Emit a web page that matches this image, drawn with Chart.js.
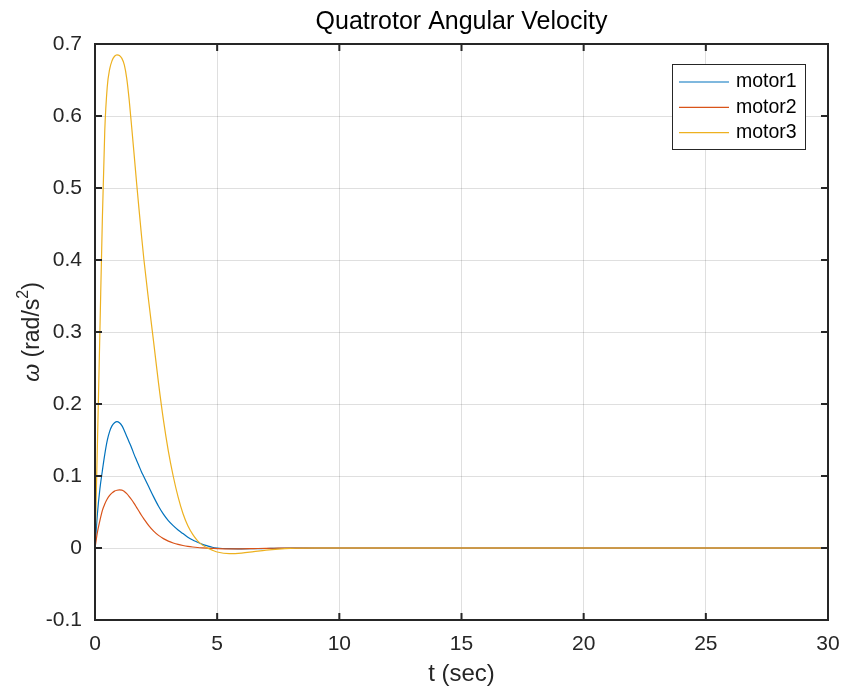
<!DOCTYPE html>
<html>
<head>
<meta charset="utf-8">
<script src="https://cdn.jsdelivr.net/npm/chart.js@4.4.1/dist/chart.umd.min.js"></script>
<style>
  html, body { margin: 0; padding: 0; background: #fff; }
</style>
</head>
<body>
<canvas id="omegaChart" width="841" height="690"></canvas>
<script>
// values
var timeSec = [0, 0.1, 0.2, 0.3, 0.4, 0.5, 0.6, 0.7, 0.8, 0.9, 1.0, 1.1, 1.2, 1.3, 1.4, 1.5, 1.6,
  1.7, 1.8, 1.9, 2.0,
  2.2, 2.4, 2.6, 2.8, 3.0, 3.2, 3.4, 3.6, 3.8, 4.0, 4.2, 4.4, 4.6, 4.8, 5.0,
  5.5, 6.0, 6.5, 7.0, 7.5, 8.0,
  9, 10, 15, 20, 25, 30];
var motor1 = [0, 0.048, 0.082, 0.107, 0.13, 0.149, 0.162, 0.17, 0.174, 0.1755, 0.174, 0.17, 0.163,
  0.155, 0.147, 0.139, 0.13, 0.122, 0.114, 0.106, 0.099,
  0.085, 0.071, 0.058, 0.047, 0.038, 0.031, 0.025, 0.02, 0.015, 0.011, 0.008, 0.005, 0.003, 0.001, 0,
  -0.001, -0.0012, -0.001, -0.0007, -0.0004, -0.0002,
  0, 0, 0, 0, 0, 0];
var motor2 = [0, 0.022, 0.038, 0.052, 0.061, 0.068, 0.073, 0.0765, 0.079, 0.0802, 0.0806, 0.0804,
  0.0785, 0.0755, 0.0715, 0.067, 0.062, 0.0565, 0.051, 0.0455, 0.0405,
  0.031, 0.0235, 0.0175, 0.013, 0.0095, 0.007, 0.005, 0.0035, 0.0023, 0.0014, 0.0007, 0.0002,
  -0.0002, -0.0005, -0.0008,
  -0.0012, -0.0011, -0.0008, -0.0005, -0.0003, -0.0001,
  0, 0, 0, 0, 0, 0];
var motor3 = [0, 0.145, 0.3, 0.455, 0.58, 0.64, 0.665, 0.677, 0.683, 0.685, 0.684, 0.68, 0.671,
  0.652, 0.622, 0.585, 0.547, 0.508, 0.471, 0.435, 0.401,
  0.342, 0.286, 0.229, 0.178, 0.135, 0.1, 0.071, 0.048, 0.031, 0.019, 0.01, 0.004, 0, -0.003, -0.0055,
  -0.0078, -0.007, -0.005, -0.003, -0.0015, -0.0005,
  0, 0, 0, 0, 0, 0];
var seriesNames = ['motor1', 'motor2', 'motor3'];
var seriesColors = ['#0072BD', '#D95319', '#EDB120'];

var FONT = '"Liberation Sans", Arial, Helvetica, sans-serif';
var INK = '#262626';

function toPoints(values) {
  return timeSec.map(function (t, i) {
    return { x: t, y: values[i] };
  });
}

// box, inward ticks, omega label and legend drawn like MATLAB
var matlabFrame = {
  id: 'matlabFrame',
  afterDatasetsDraw: function (chart) {
    var ctx = chart.ctx;
    var a = chart.chartArea;
    var xs = chart.scales.x;
    var ys = chart.scales.y;
    ctx.save();
    ctx.strokeStyle = INK;
    ctx.lineWidth = 2;
    ctx.strokeRect(a.left, a.top, a.right - a.left, a.bottom - a.top);

    ctx.beginPath();
    xs.ticks.forEach(function (t) {
      var px = xs.getPixelForValue(t.value);
      ctx.moveTo(px, a.bottom); ctx.lineTo(px, a.bottom - 7);
      ctx.moveTo(px, a.top); ctx.lineTo(px, a.top + 7);
    });
    ys.ticks.forEach(function (t) {
      var py = ys.getPixelForValue(t.value);
      ctx.moveTo(a.left, py); ctx.lineTo(a.left + 7, py);
      ctx.moveTo(a.right, py); ctx.lineTo(a.right - 7, py);
    });
    ctx.stroke();

    // y axis label
    ctx.save();
    ctx.translate(33, (a.top + a.bottom) / 2);
    ctx.rotate(-Math.PI / 2);
    ctx.fillStyle = INK;
    ctx.textBaseline = 'middle';
    var parts = [
      { text: '\u03C9', font: 'italic 23px ' + FONT, dy: 0 },
      { text: ' (rad/s', font: '23px ' + FONT, dy: 0 },
      { text: '2', font: '16px ' + FONT, dy: -9 },
      { text: ')', font: '23px ' + FONT, dy: 0 }
    ];
    var total = 0;
    parts.forEach(function (p) { ctx.font = p.font; p.w = ctx.measureText(p.text).width; total += p.w; });
    var cx = -total / 2;
    parts.forEach(function (p) {
      ctx.font = p.font;
      ctx.fillText(p.text, cx, p.dy);
      cx += p.w;
    });
    ctx.restore();

    // legend
    var lx = 672.5, ly = 64.5, lw = 133, lh = 85;
    ctx.fillStyle = '#fff';
    ctx.fillRect(lx, ly, lw, lh);
    ctx.lineWidth = 1;
    ctx.strokeStyle = INK;
    ctx.strokeRect(lx, ly, lw, lh);
    ctx.font = '19.5px ' + FONT;
    ctx.textBaseline = 'middle';
    chart.data.datasets.forEach(function (ds, i) {
      var rowY = 82 + i * 25.3;
      ctx.strokeStyle = ds.borderColor;
      ctx.lineWidth = 1.2;
      ctx.beginPath();
      ctx.moveTo(679, rowY);
      ctx.lineTo(729, rowY);
      ctx.stroke();
      ctx.fillStyle = '#000';
      ctx.fillText(ds.label, 736, rowY);
    });
    ctx.restore();
  }
};

var datasets = seriesNames.map(function (name, i) {
  return {
    label: name,
    data: toPoints([motor1, motor2, motor3][i]),
    borderColor: seriesColors[i],
    backgroundColor: seriesColors[i],
    borderWidth: 1.2,
    pointRadius: 0,
    showLine: true,
    fill: false,
    cubicInterpolationMode: 'monotone',
    order: 3 - i
  };
});

new Chart(document.getElementById('omegaChart'), {
  type: 'scatter',
  data: { datasets: datasets },
  plugins: [matlabFrame],
  options: {
    responsive: false,
    animation: false,
    devicePixelRatio: 1,
    layout: { padding: { top: 0, right: 13, bottom: 0, left: 0 } },
    plugins: {
      legend: { display: false },
      tooltip: { enabled: false },
      title: {
        display: true,
        fullSize: false,
        text: 'Quatrotor Angular Velocity',
        color: '#000',
        font: { family: FONT, size: 25, weight: 'normal' },
        padding: { top: 7, bottom: 7 }
      }
    },
    scales: {
      x: {
        type: 'linear',
        min: 0,
        max: 30,
        afterFit: function (scale) {
          scale.height = 70;
          scale.paddingLeft = 0;
          scale.paddingRight = 0;
        },
        ticks: { stepSize: 5, color: INK, padding: 12, font: { family: FONT, size: 21 } },
        grid: { color: 'rgba(38,38,38,0.15)', drawTicks: false },
        border: { display: false },
        title: {
          display: true,
          text: 't (sec)',
          color: INK,
          font: { family: FONT, size: 24 },
          padding: { top: 0, bottom: 1 }
        }
      },
      y: {
        min: -0.1,
        max: 0.7,
        afterFit: function (scale) {
          scale.width = 95;
          scale.paddingTop = 0;
          scale.paddingBottom = 0;
        },
        ticks: {
          stepSize: 0.1,
          color: INK,
          padding: 13,
          font: { family: FONT, size: 21 },
          callback: function (v) { return String(Number(v.toFixed(1))); }
        },
        grid: { color: 'rgba(38,38,38,0.15)', drawTicks: false },
        border: { display: false }
      }
    }
  }
});
</script>
</body>
</html>
